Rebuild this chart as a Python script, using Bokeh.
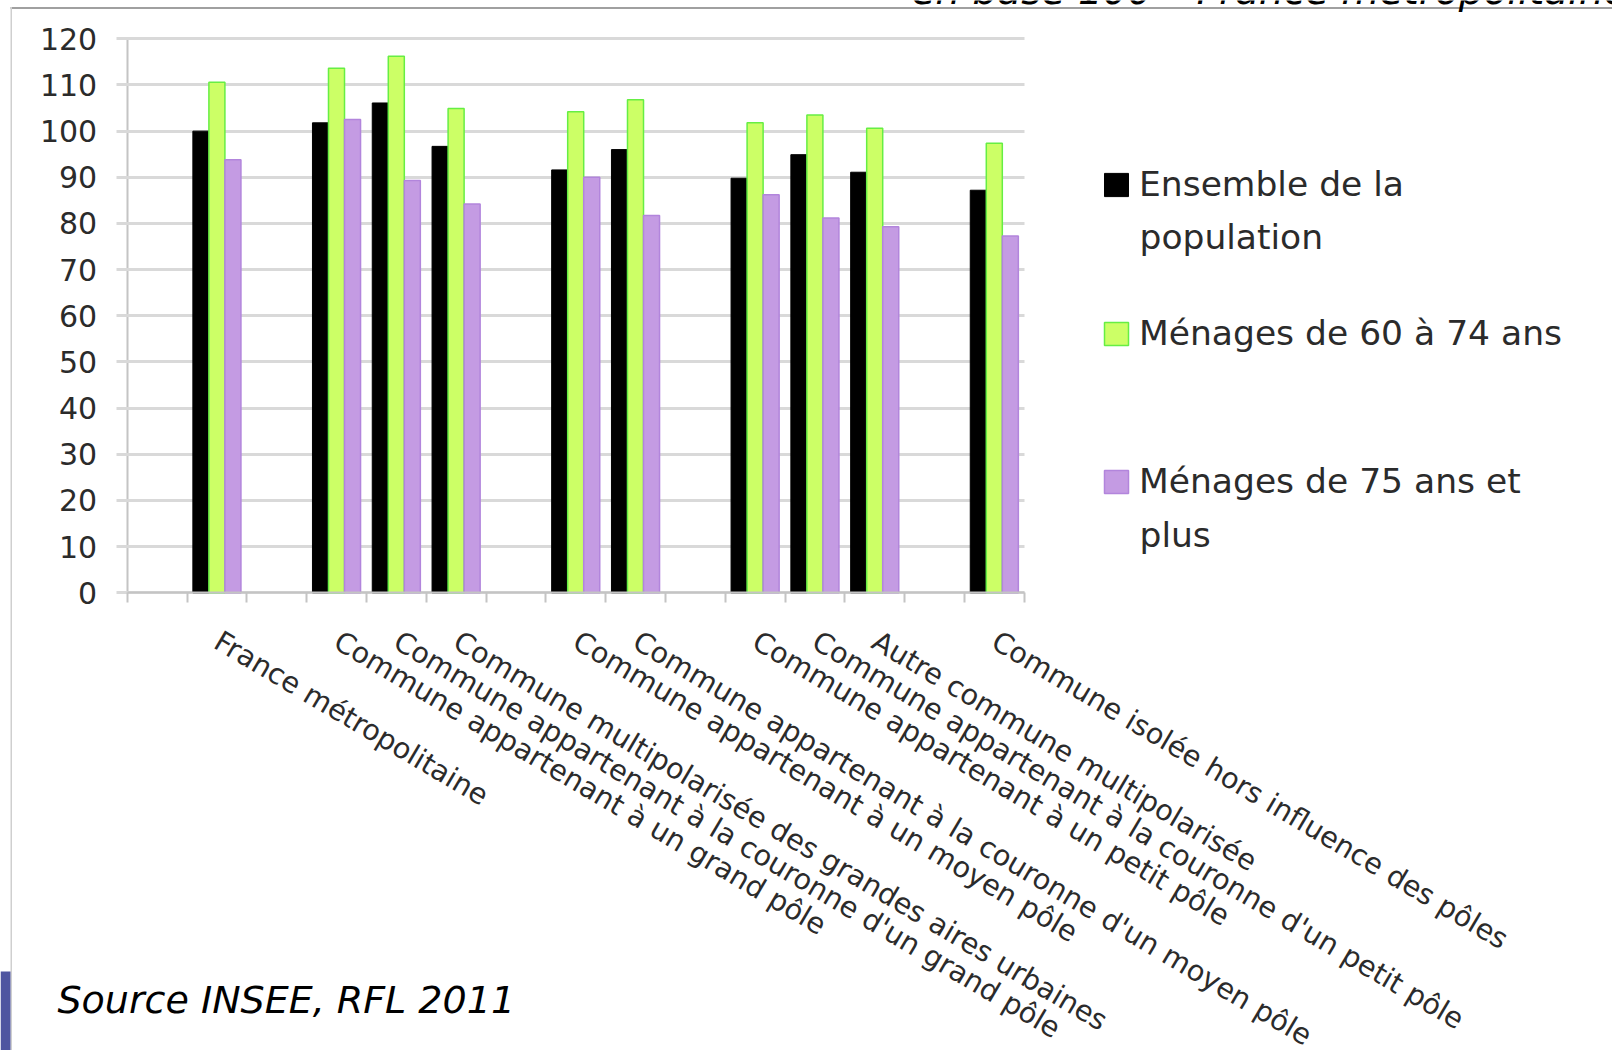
import numpy as np
from bokeh.plotting import figure
from bokeh.models import (ColumnDataSource, Range1d, LinearAxis, FixedTicker,
                          Legend, LegendItem, Label, BoxAnnotation)
from bokeh.transform import dodge
from bokeh.embed import file_html
from bokeh.resources import INLINE

# ---------------- data ----------------
categories = [
    "",
    "France métropolitaine",
    "",
    "Commune appartenant à un grand pôle",
    "Commune appartenant à la couronne d'un grand pôle",
    "Commune multipolarisée des grandes aires urbaines",
    "",
    "Commune appartenant à un moyen pôle",
    "Commune appartenant à la couronne d'un moyen pôle",
    "",
    "Commune appartenant à un petit pôle",
    "Commune appartenant à la couronne d'un petit pôle",
    "Autre commune multipolarisée",
    "",
    "Commune isolée hors influence des pôles",
]
ensemble = [100.0, 101.8, 106.1, 96.7, 91.6, 96.0, 89.8, 94.9, 91.1, 87.2]
menages_60_74 = [110.6, 113.6, 116.2, 104.9, 104.2, 106.8, 101.8, 103.5, 100.6, 97.4]
menages_75_plus = [93.8, 102.5, 89.3, 84.2, 90.0, 81.7, 86.2, 81.2, 79.3, 77.3]
series_names = ["Ensemble de la\npopulation", "Ménages de 60 à 74 ans", "Ménages de 75 ans et\nplus"]
y_ticks = list(range(0, 121, 10))
y_max = 120
source_text = "Source INSEE, RFL 2011"
title_text = "en base 100 – France métropolitaine"

# ---------------- layout constants (pixels in the canvas) ----------------
W, H = 1612, 1050
CH_LEFT, SLOT_PX = 126.7, 59.8        # left edge of the bar area, width of one category slot
Y_TOP_PX, Y_ZERO_PX = 38.3, 592.3     # canvas rows of y = y_max and y = 0

n = len(categories)
filled = [i for i, c in enumerate(categories) if c]
src = ColumnDataSource(dict(
    xc=filled,
    ens=ensemble, m60=menages_60_74, m75=menages_75_plus,
))

ppu = (Y_ZERO_PX - Y_TOP_PX) / y_max
x_lo = -0.5 - CH_LEFT / SLOT_PX
x_hi = -0.5 + (W - CH_LEFT) / SLOT_PX
y_hi = y_max + Y_TOP_PX / ppu
y_lo = -(H - Y_ZERO_PX) / ppu

p = figure(width=W, height=H,
           x_range=Range1d(x_lo, x_hi), y_range=Range1d(y_lo, y_hi),
           output_backend="svg", toolbar_location=None,
           x_axis_location=None, y_axis_location=None,
           min_border=0, min_border_left=0, min_border_right=0,
           min_border_top=0, min_border_bottom=0)
p.outline_line_color = None
p.background_fill_color = "white"
p.border_fill_color = "white"
p.xgrid.visible = False
p.ygrid.visible = False

AX_COL = "#C4C4C4"
GRID_COL = "#D9D9D9"
TXT = "#2b2b2b"
FONT = "DejaVu Sans"

# y axis pinned at the left edge of the bar area; its inward ticks act as grid lines
yax = LinearAxis(ticker=FixedTicker(ticks=y_ticks), fixed_location=-0.5,
                 bounds=(0, y_max))
yax.level = "underlay"
yax.minor_tick_line_color = None
yax.major_tick_out = 11
yax.major_tick_in = int(round(n * SLOT_PX))
yax.major_tick_line_color = GRID_COL
yax.major_tick_line_width = 3
yax.axis_line_color = AX_COL
yax.axis_line_width = 2
yax.major_label_text_font = FONT
yax.major_label_text_font_size = "30px"
yax.major_label_text_color = TXT
yax.major_label_standoff = 19
p.add_layout(yax, "left")

# x axis pinned at y = 0: labels at category centres, small ticks between categories
xax = LinearAxis(ticker=FixedTicker(ticks=filled,
                                    minor_ticks=[k - 0.5 for k in range(n + 1)]),
                 fixed_location=0, bounds=(-0.5, n - 0.5))
xax.major_label_overrides = {i: categories[i] for i in filled}
xax.major_tick_out = 0
xax.major_tick_in = 0
xax.major_tick_line_color = None
xax.minor_tick_out = 10
xax.minor_tick_in = 0
xax.minor_tick_line_color = AX_COL
xax.minor_tick_line_width = 2
xax.axis_line_color = AX_COL
xax.axis_line_width = 2
xax.major_label_orientation = -0.535
xax.major_label_text_font = FONT
xax.major_label_text_font_size = "28.5px"
xax.major_label_text_color = TXT
xax.major_label_standoff = 36
p.add_layout(xax, "below")

# bars
bw = 0.268
r1 = p.vbar(x=dodge("xc", -bw), top="ens", width=bw, source=src,
            fill_color="#000000", line_color="#000000", line_width=1)
r2 = p.vbar(x=dodge("xc", 0), top="m60", width=bw, source=src,
            fill_color="#CCFF66", line_color="#66EE44", line_width=1.5)
r3 = p.vbar(x=dodge("xc", bw), top="m75", width=bw, source=src,
            fill_color="#C49BE3", line_color="#B285DC", line_width=1.5)

# legends: one per entry (even vertical spacing); continuation lines as labels
LEG_X, LEG_FS = 1101, 34.5
legend_bottoms = [204, 353, 501]
cont_baselines = [250, None, 548]
for r, name, bot, cb in zip([r1, r2, r3], series_names, legend_bottoms, cont_baselines):
    lines = name.split("\n")
    lg = Legend(items=[LegendItem(label=lines[0], renderers=[r])], location=(LEG_X, H - bot),
                orientation="vertical", border_line_color=None,
                background_fill_alpha=0, glyph_width=30, glyph_height=29,
                label_standoff=8, label_text_font=FONT,
                label_text_font_size="%spx" % LEG_FS, label_text_color=TXT,
                padding=0, margin=0, spacing=0)
    p.add_layout(lg, "center")
    if len(lines) > 1 and cb is not None:
        p.add_layout(Label(x=LEG_X + 38, y=H - (cb - 0.395 * LEG_FS),
                           x_units="screen", y_units="screen", text=" ".join(lines[1:]),
                           text_font=FONT, text_font_size="%spx" % LEG_FS,
                           text_color=TXT, text_baseline="alphabetic"))

# texts
p.add_layout(Label(x=57, y=H - (1015 - 0.395 * 38), x_units="screen", y_units="screen",
                   text=source_text, text_font=FONT, text_font_style="italic",
                   text_font_size="38px", text_color="#000000",
                   text_baseline="alphabetic"))
p.add_layout(Label(x=911, y=H - (5 - 0.395 * 39), x_units="screen", y_units="screen",
                   text=title_text, text_font=FONT, text_font_style="italic",
                   text_font_size="39px", text_color="#000000",
                   text_baseline="alphabetic"))

# slide frame lines and corner block
def screen_box(l, r, t, b, col, **kw):
    return BoxAnnotation(left=l, right=r, top=H - t, bottom=H - b,
                         left_units="screen", right_units="screen",
                         top_units="screen", bottom_units="screen",
                         fill_color=col, fill_alpha=1, line_color=None, level="underlay", **kw)

p.add_layout(screen_box(10, W, 6.5, 8.5, "#A0A0A0"))
p.add_layout(screen_box(10, 11.5, 6.5, H, "#CFCFCF"))
p.add_layout(screen_box(0, 10, 971, H, "#4F55A0"))

open("out.html", "w").write(file_html(p, INLINE))
